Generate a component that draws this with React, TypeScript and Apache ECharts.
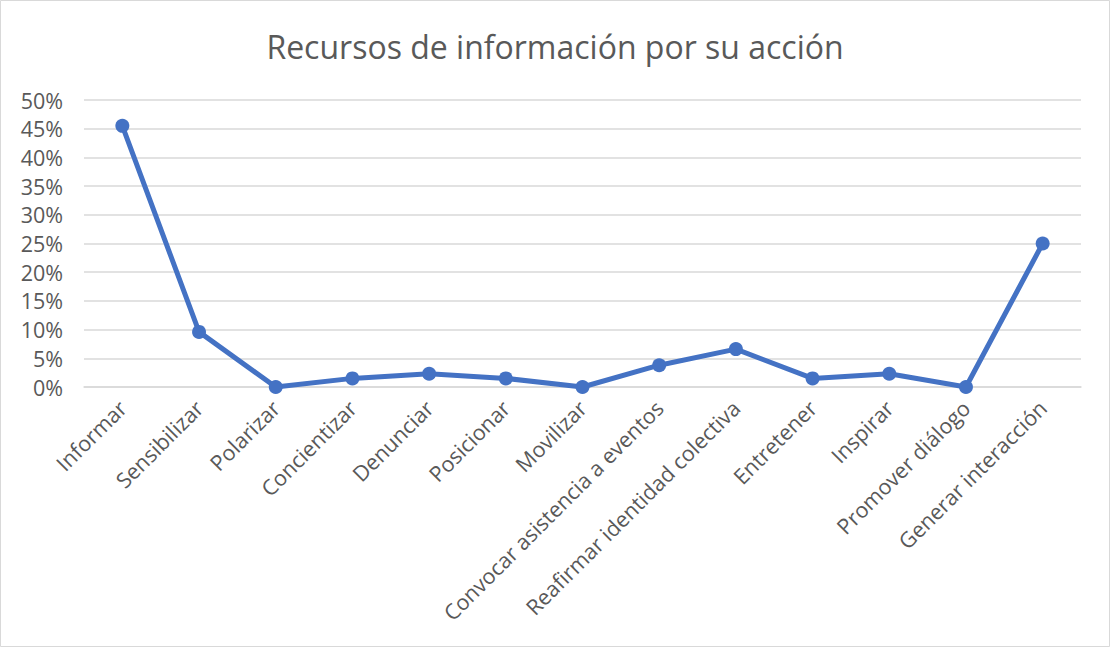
import React, { useEffect, useRef } from "react";
import * as echarts from "echarts";

const categories = [
  "Informar",
  "Sensibilizar",
  "Polarizar",
  "Concientizar",
  "Denunciar",
  "Posicionar",
  "Movilizar",
  "Convocar asistencia a eventos",
  "Reafirmar identidad colectiva",
  "Entretener",
  "Inspirar",
  "Promover diálogo",
  "Generar interacción",
];
const values = [45.5, 9.6, 0, 1.5, 2.3, 1.5, 0, 3.8, 6.6, 1.5, 2.3, 0, 25.0];
const titleText = "Recursos de información por su acción";

export default function App() {
  const ref = useRef<HTMLDivElement>(null);
  useEffect(() => {
    const chart = echarts.init(ref.current!, null, { renderer: "svg" });
    chart.setOption({
      animation: false,
      backgroundColor: "#ffffff",
      title: {
        text: titleText,
        left: "center",
        top: 25,
        textStyle: {
          fontFamily: "Open Sans",
          fontSize: 32,
          fontWeight: "normal",
          color: "#595959",
        },
      },
      grid: { left: 84, right: 29, top: 100, bottom: 260, containLabel: false },
      xAxis: {
        type: "category",
        data: categories,
        boundaryGap: true,
        axisLine: { show: true, lineStyle: { color: "#d9d9d9", width: 1.5 } },
        axisTick: { show: false },
        axisLabel: {
          rotate: 45,
          interval: 0,
          margin: 17,
          fontFamily: "Open Sans",
          fontSize: 21.5,
          color: "#595959",
        },
      },
      yAxis: {
        type: "value",
        min: 0,
        max: 50,
        interval: 5,
        axisLine: { show: false },
        axisTick: { show: false },
        splitLine: { lineStyle: { color: "#d9d9d9", width: 1.5 } },
        axisLabel: {
          formatter: "{value}%",
          fontFamily: "Open Sans",
          fontSize: 21.5,
          color: "#595959",
          margin: 21,
        },
      },
      series: [
        {
          type: "line",
          data: values,
          symbol: "circle",
          symbolSize: 14,
          lineStyle: { color: "#4472C4", width: 5 },
          itemStyle: { color: "#4472C4" },
        },
      ],
      graphic: [
        {
          type: "rect",
          shape: { x: 0.5, y: 0.5, width: 1109, height: 646 },
          style: { fill: "none", stroke: "#d9d9d9", lineWidth: 1 },
          silent: true,
        },
      ],
    });
    return () => chart.dispose();
  }, []);
  return (
    <div
      ref={ref}
      style={{ position: "fixed", left: 0, top: 0, width: 1110, height: 647 }}
    />
  );
}
